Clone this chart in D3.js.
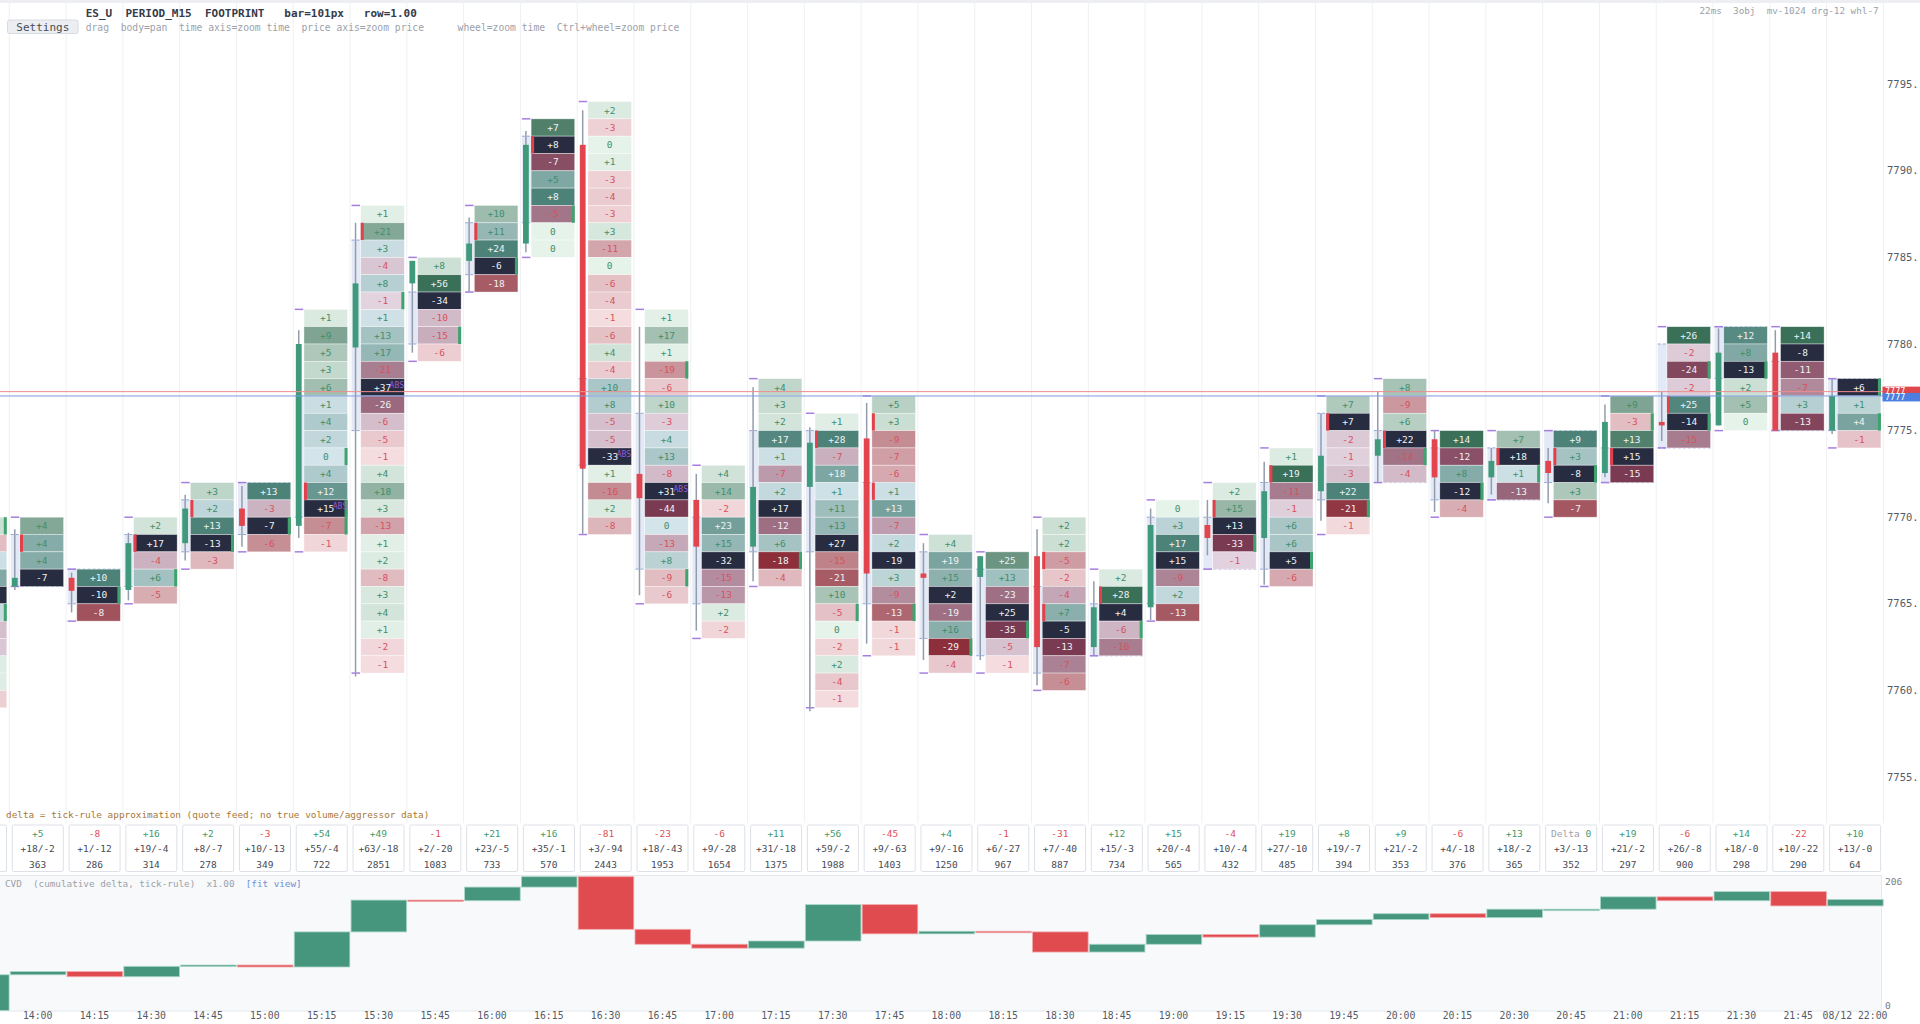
<!DOCTYPE html>
<html>
<head>
<meta charset="utf-8">
<script src="https://cdn.jsdelivr.net/npm/d3@7/dist/d3.min.js"></script>
<style>
html, body { margin: 0; padding: 0; background: #fff; overflow: hidden; }
svg { display: block; font-family: "DejaVu Sans Mono", monospace; }
text { white-space: pre; }
</style>
</head>
<body>
<div id="chart"></div>
<script>
// footprint bars, 13:45 is cut off at the left edge
var times = ["13:45","14:00","14:15","14:30","14:45","15:00","15:15","15:30","15:45","16:00","16:15",
    "16:30","16:45","17:00","17:15","17:30","17:45","18:00","18:15","18:30","18:45","19:00",
    "19:15","19:30","19:45","20:00","20:15","20:30","20:45","21:00","21:15","21:30","21:45","22:00"];

// price of the top edge of each bar's first row
var tops = [7770,7770,7767,7770,7772,7772,7782,7788,7785,7788,7793,7794,7782,7773,7778,7776,7777,
    7769,7768,7770,7767,7771,7772,7774,7777,7778,7775,7775,7775,7777,7781,7781,7781,7778];

// delta per price row, top to bottom
var cells = [
    [3,-4,1,12,20,2,-3,-2,1,1,-2],
    [4,4,4,-7],
    [10,-10,-8],
    [2,17,-4,6,-5],
    [3,2,13,-13,-3],
    [13,-3,-7,-6],
    [1,9,5,3,6,1,4,2,0,4,12,15,-7,-1],
    [1,21,3,-4,8,-1,1,13,17,-21,37,-26,-6,-5,-1,4,18,3,-13,1,2,-8,3,4,1,-2,-1],
    [8,56,-34,-10,-15,-6],
    [10,11,24,-6,-18],
    [7,8,-7,5,8,-5,0,0],
    [2,-3,0,1,-3,-4,-3,3,-11,0,-6,-4,-1,-6,4,-4,10,8,-5,-5,-33,1,-16,2,-8],
    [1,17,1,-19,-6,10,-3,4,13,-8,31,-44,0,-13,8,-9,-6],
    [4,14,-2,23,15,-32,-15,-13,2,-2],
    [4,3,2,17,1,-7,2,17,-12,6,-18,-4],
    [1,28,-7,18,1,11,13,27,-15,-21,10,-5,0,-2,2,-4,-1],
    [5,3,-9,-7,-6,1,13,-7,2,-19,3,-9,-13,-1,-1],
    [4,19,15,2,-19,16,-29,-4],
    [25,13,-23,25,-35,-5,-1],
    [2,2,-5,-2,-4,7,-5,-13,-7,-6],
    [2,28,4,-6,-16],
    [0,3,17,15,-9,2,-13],
    [2,15,13,-33,-1],
    [1,19,-11,-1,6,6,5,-6],
    [7,7,-2,-1,-3,22,-21,-1],
    [8,-9,6,22,-14,-4],
    [14,-12,8,-12,-4],
    [7,18,1,-13],
    [9,3,-8,3,-7],
    [9,-3,13,15,-15],
    [26,-2,-24,-2,25,-14,-15],
    [12,8,-13,2,5,0],
    [14,-8,-11,-7,3,-13],
    [6,1,4,-1]
];

// row index of the point of control
var pocs = [4,3,1,1,3,2,11,10,2,3,1,20,10,5,7,7,9,3,3,6,2,3,2,6,1,3,3,1,2,3,5,2,1,0];

var opens  = [7761,7766,7766.5,7765.8,7768.5,7770.5,7769.5,7779.8,7783.5,7784.8,7785.8,7791.5,7772.5,7771,
    7768.3,7771.75,7774.55,7766.75,7766.55,7767.75,7762.5,7764.8,7769.55,7768.8,7771.5,7773.55,7774.5,
    7772.3,7773.25,7772.55,7775.5,7775.3,7779.5,7775];
var highs  = [7769.5,7769.3,7766.8,7769.1,7771.3,7771.8,7780.8,7787,7784.8,7787.3,7792.3,7793.5,7781,7772.5,
    7777.5,7775.2,7776.6,7768.5,7767.75,7769.3,7766.3,7770.5,7771,7773.2,7776,7777.25,7775,7774,7774,
    7776.5,7777.25,7780.9,7780.8,7778];
var lows   = [7759.5,7765.8,7764.5,7765.2,7767.5,7768.3,7768.8,7760.8,7779.5,7783,7785.3,7769.05,7765.5,7763.45,
    7766.3,7758.8,7762.7,7761.75,7761.75,7760.3,7762.05,7764.06,7767.8,7766.1,7769.8,7772,7770.3,7771.3,
    7770.8,7772.3,7774.4,7775.3,7775,7774.8];
var closes = [7766.5,7766.5,7765.75,7768.5,7770.5,7769.5,7780,7783.5,7784.8,7785.8,7791.5,7772.8,7771.1,7768.3,
    7771.75,7774.3,7766.75,7766.5,7767.75,7762.5,7764.8,7769.55,7768.8,7771.5,7773.55,7774.5,7772.3,
    7773.25,7772.55,7775.5,7775.3,7779.5,7775,7777];

// value area bounds
var vaLows  = [7762,7766,7765,7766,7768,7769,7770,7775,7780,7784,7787,7773,7767,7765,7768,7768,7765,
    7763,7762,7761,7762,7765,7767,7767,7771,7772,7771,7771,7772,7772,7774,7778,7775,7775];
var vaHighs = [7768,7769,7767,7769,7771,7772,7777,7786,7783,7787,7792,7778,7776,7770,7775,7775,7772,
    7768,7767,7766,7765,7770,7770,7772,7776,7775,7774,7774,7775,7774,7780,7781,7779,7778];

// imbalance markers (row indexes)
var imbRight = [[0,5],[],[1],[3],[3],[2],[8,11,12],[5],[4],[3],[5],[],[3,15],[],[10],[11],[12],[6],[4],
    [],[3],[],[3],[6],[6],[4],[3],[2],[2],[1],[2,5],[2],[],[0,2]];
var imbLeft  = [[],[1],[],[1],[1],[],[10],[1],[],[1],[1],[],[],[],[],[1],[1,5],[],[],[2,5],[1],[],[1],
    [1],[1],[3],[],[1],[1],[3],[4],[],[],[]];
var absCells = [[4],[],[],[],[],[],[11],[10],[],[],[],[20],[10],[],[],[],[],[],[],[],[],[],[],[],[],[],[],[],[],[],[],[],[],[]];

// per-bar summary row
var statDelta = [55,5,-8,16,2,-3,54,49,-1,21,16,-81,-23,-6,11,56,-45,4,-1,-31,12,15,-4,19,8,9,-6,13,0,19,-6,14,-22,10];
var statBuySell = ["+60/-5","+18/-2","+1/-12","+19/-4","+8/-7","+10/-13","+55/-4","+63/-18","+2/-20","+23/-5",
    "+35/-1","+3/-94","+18/-43","+9/-28","+31/-18","+59/-2","+9/-63","+9/-16","+6/-27","+7/-40","+15/-3",
    "+20/-4","+10/-4","+27/-10","+19/-7","+21/-2","+4/-18","+18/-2","+3/-13","+21/-2","+26/-8","+18/-0",
    "+10/-22","+13/-0"];
var statVol = [410,363,286,314,278,349,722,2851,1083,733,570,2443,1953,1654,1375,1988,1403,1250,967,887,
    734,565,432,485,394,353,376,365,352,297,900,298,290,64];

var priceTicks = [7755,7760,7765,7770,7775,7780,7785,7790,7795];

var svg = d3.select("#chart").append("svg")
    .attr("width", 1920)
    .attr("height", 1024);

var x = d3.scaleBand().domain(times).range([-47.5, 1883.4]);
var y = d3.scaleLinear().domain([7755, 7795]).range([777, 84.2]);
var slot = x.bandwidth();

var posOut = d3.interpolateRgb("#e6f3eb", "#3a6f58"),
    posIn  = d3.interpolateRgb("#d3e4ea", "#4d8279"),
    negOut = d3.interpolateRgb("#f7e1e4", "#8c2f3b"),
    negIn  = d3.interpolateRgb("#e5d7e3", "#7a3a52");

function fmt(v) { return v > 0 ? "+" + v : "" + v; }
function onScreen(t) { return x(t) + slot / 2 > 20; }

// top strip + grid
svg.append("rect").attr("x", 0).attr("y", 0).attr("width", 1920).attr("height", 3).attr("fill", "#eceef1");

svg.append("g").selectAll("line")
    .data(times.concat(["end"]))
    .enter().append("line")
    .attr("x1", function(d, i) { return i < times.length ? x(d) : 1883.4; })
    .attr("x2", function(d, i) { return i < times.length ? x(d) : 1883.4; })
    .attr("y1", 3).attr("y2", 823)
    .attr("stroke", "#eef0f3");

// header
svg.append("text").attr("x", 85.7).attr("y", 13.5).attr("dy", "0.35em")
    .attr("font-size", 11).attr("font-weight", "bold").attr("fill", "#343b4a")
    .text("ES_U  PERIOD_M15  FOOTPRINT   bar=101px   row=1.00");
svg.append("rect").attr("x", 7.5).attr("y", 20).attr("width", 70.5).attr("height", 13.5)
    .attr("rx", 2).attr("fill", "#eceef2").attr("stroke", "#d6dae1");
svg.append("text").attr("x", 42.8).attr("y", 27).attr("dy", "0.35em").attr("text-anchor", "middle")
    .attr("font-size", 11).attr("fill", "#454b57").text("Settings");
svg.append("text").attr("x", 85.7).attr("y", 27.3).attr("dy", "0.35em")
    .attr("font-size", 9.7).attr("fill", "#9ba1aa")
    .text("drag  body=pan  time axis=zoom time  price axis=zoom price");
svg.append("text").attr("x", 457.6).attr("y", 27.3).attr("dy", "0.35em")
    .attr("font-size", 9.7).attr("fill", "#9ba1aa")
    .text("wheel=zoom time  Ctrl+wheel=zoom price");
svg.append("text").attr("x", 1699.5).attr("y", 11.2).attr("dy", "0.35em")
    .attr("font-size", 9.3).attr("fill", "#9ba1aa")
    .text("22ms  3obj  mv-1024 drg-12 whl-7");

// footprint bars
var plot = svg.append("g");

times.forEach(function(t, i) {
    var g = x(t),
        top = tops[i],
        vals = cells[i],
        n = vals.length,
        maxAbs = d3.max(vals, function(v) { return Math.abs(v); }) || 1;
    var bar = plot.append("g").attr("class", "bar");

    // value area strip
    bar.append("rect")
        .attr("x", g + 1.5).attr("y", y(vaHighs[i]))
        .attr("width", 9).attr("height", y(vaLows[i]) - y(vaHighs[i]))
        .attr("fill", "#e3e9f6");
    [vaHighs[i], vaLows[i]].forEach(function(p) {
        bar.append("line")
            .attr("x1", g + 1.5).attr("x2", g + 54.3)
            .attr("y1", y(p)).attr("y2", y(p))
            .attr("stroke", "#93a9dd").attr("stroke-dasharray", "3,2");
    });

    // high / low brackets
    [top, top - n].forEach(function(p) {
        bar.append("line")
            .attr("x1", g + 1.5).attr("x2", g + 10)
            .attr("y1", y(p)).attr("y2", y(p))
            .attr("stroke", "#a67ee0").attr("stroke-width", 1.5);
    });

    // candle
    bar.append("line")
        .attr("x1", g + 5.5).attr("x2", g + 5.5)
        .attr("y1", y(highs[i])).attr("y2", y(lows[i]))
        .attr("stroke", "#939cab").attr("stroke-width", 1.5);
    var up = closes[i] >= opens[i];
    bar.append("rect")
        .attr("x", g + 2.6).attr("width", 5.8)
        .attr("y", y(Math.max(opens[i], closes[i])))
        .attr("height", Math.max(1.5, Math.abs(y(opens[i]) - y(closes[i]))))
        .attr("fill", up ? "#3f9a7c" : "#e2454d");

    // price rows
    var row = bar.selectAll("g.cell")
        .data(vals)
        .enter().append("g")
        .attr("class", "cell");

    function lvl(j) { return top - 1 - j; }
    function inVA(j) { return lvl(j) >= vaLows[i] && lvl(j) + 1 <= vaHighs[i]; }
    function tval(v) { return Math.abs(v) / maxAbs; }

    row.append("rect")
        .attr("x", g + 10.7)
        .attr("y", function(d, j) { return y(lvl(j) + 1); })
        .attr("width", 43.6)
        .attr("height", function(d, j) { return y(lvl(j)) - y(lvl(j) + 1); })
        .attr("fill", function(d, j) {
            if (j === pocs[i]) return "#272c40";
            var tt = tval(d);
            if (d >= 0) return inVA(j) ? posIn(tt) : posOut(tt);
            return inVA(j) ? negIn(tt) : negOut(tt);
        })
        .attr("stroke", "#ffffff").attr("stroke-opacity", 0.55).attr("stroke-width", 0.7);

    // the cut-off bar at the left edge shows no numbers
    if (onScreen(t)) {
        row.append("text")
            .attr("x", g + 32.5)
            .attr("y", function(d, j) { return y(lvl(j) + 0.5); })
            .attr("dy", "0.35em")
            .attr("text-anchor", "middle")
            .attr("font-size", 9.5)
            .attr("fill", function(d, j) {
                if (j === pocs[i] || tval(d) > 0.64) return "#eef2f5";
                return d >= 0 ? "#3f8f6c" : "#d9515d";
            })
            .text(fmt);
    }

    imbRight[i].forEach(function(j) {
        bar.append("rect").attr("x", g + 51.3).attr("y", y(lvl(j) + 1))
            .attr("width", 3).attr("height", y(lvl(j)) - y(lvl(j) + 1))
            .attr("fill", "#3ea36e");
    });
    imbLeft[i].forEach(function(j) {
        bar.append("rect").attr("x", g + 10.7).attr("y", y(lvl(j) + 1))
            .attr("width", 3).attr("height", y(lvl(j)) - y(lvl(j) + 1))
            .attr("fill", "#e2414c");
    });
    if (onScreen(t)) {
        absCells[i].forEach(function(j) {
            bar.append("text").attr("x", g + 54).attr("y", y(lvl(j) + 0.62))
                .attr("dy", "0.35em").attr("text-anchor", "end")
                .attr("font-size", 8).attr("fill", "#9a5ad8").text("ABS");
        });
    }
});

// last price lines
svg.append("line").attr("x1", 0).attr("x2", 1883).attr("y1", y(7777.25)).attr("y2", y(7777.25))
    .attr("stroke", "#ee8d8d").attr("stroke-width", 1);
svg.append("line").attr("x1", 0).attr("x2", 1883).attr("y1", y(7777)).attr("y2", y(7777))
    .attr("stroke", "#7d9ce0").attr("stroke-width", 1);

// price axis (labels run off the right edge, only "7795." fits)
svg.append("g").selectAll("text")
    .data(priceTicks)
    .enter().append("text")
    .attr("x", 1887).attr("y", function(d) { return y(d); })
    .attr("dy", "0.35em").attr("font-size", 10.5).attr("fill", "#555b66")
    .text(function(d) { return d + "."; });

svg.append("rect").attr("x", 1882.5).attr("y", y(7777.25) - 5).attr("width", 40).attr("height", 8)
    .attr("fill", "#e0474c");
svg.append("text").attr("x", 1885).attr("y", y(7777.25) - 1).attr("dy", "0.35em")
    .attr("font-size", 8.5).attr("fill", "#fff").text("7777");
svg.append("rect").attr("x", 1882.5).attr("y", y(7777) - 3).attr("width", 40).attr("height", 8.5)
    .attr("fill", "#4d7fe0");
svg.append("text").attr("x", 1885).attr("y", y(7777) + 1.2).attr("dy", "0.35em")
    .attr("font-size", 8.5).attr("fill", "#fff").text("7777");

// note line
svg.append("text").attr("x", 6).attr("y", 815).attr("dy", "0.35em")
    .attr("font-size", 9.4).attr("fill", "#a8783a")
    .text("delta = tick-rule approximation (quote feed; no true volume/aggressor data)");

// summary boxes
var stats = svg.append("g").selectAll("g")
    .data(times)
    .enter().append("g");

stats.append("rect")
    .attr("x", function(d) { return x(d) + 3; })
    .attr("y", 825).attr("width", 51).attr("height", 46.5)
    .attr("rx", 1.5).attr("fill", "#fff").attr("stroke", "#dde1e7");

var shown = stats.filter(function(d) { return onScreen(d); });

shown.each(function(d) {
    var i = times.indexOf(d), v = statDelta[i], c = x(d) + slot / 2, el = d3.select(this);
    if (v === 0) {
        el.append("text").attr("x", c - 20).attr("y", 833.5).attr("dy", "0.35em")
            .attr("font-size", 9.5).attr("fill", "#9ba1aa").text("Delta");
        el.append("text").attr("x", c + 14.5).attr("y", 833.5).attr("dy", "0.35em")
            .attr("font-size", 9.5).attr("fill", "#3f9a6e").text("0");
    } else {
        el.append("text").attr("x", c).attr("y", 833.5).attr("dy", "0.35em")
            .attr("text-anchor", "middle").attr("font-size", 9.5)
            .attr("fill", v > 0 ? "#3f9a6e" : "#e0505a").text(fmt(v));
    }
    el.append("text").attr("x", c).attr("y", 848.5).attr("dy", "0.35em")
        .attr("text-anchor", "middle").attr("font-size", 9.5).attr("fill", "#454b56")
        .text(statBuySell[i]);
    el.append("text").attr("x", c).attr("y", 864.3).attr("dy", "0.35em")
        .attr("text-anchor", "middle").attr("font-size", 9.5).attr("fill", "#454b56")
        .text(statVol[i]);
});

// CVD panel
var cvdEnd = [], run = 0;
statDelta.forEach(function(v) { run += v; cvdEnd.push(run); });
var cvdStart = [0].concat(cvdEnd.slice(0, -1));

var yc = d3.scaleLinear().domain([0, 206]).range([1010.5, 876.7]);

svg.append("rect").attr("x", -1).attr("y", 875.5).attr("width", 1882.5).attr("height", 135.5)
    .attr("fill", "#f8f9fb").attr("stroke", "#e5e8ed");

svg.append("g").selectAll("rect")
    .data(times)
    .enter().append("rect")
    .attr("x", function(d) { return x(d) + 1; })
    .attr("width", slot - 1.2)
    .attr("y", function(d, i) { return Math.min(yc(cvdStart[i]), yc(cvdEnd[i])); })
    .attr("height", function(d, i) { return Math.max(1.5, Math.abs(yc(cvdStart[i]) - yc(cvdEnd[i]))); })
    .attr("fill", function(d, i) { return statDelta[i] >= 0 ? "#46967e" : "#e04b50"; })
    .attr("stroke", function(d, i) { return statDelta[i] >= 0 ? "#a9d6c6" : "#f2a9ab"; })
    .attr("stroke-width", 0.8);

var cvdTitle = svg.append("text").attr("x", 5).attr("y", 884).attr("dy", "0.35em")
    .attr("font-size", 9.3).attr("fill", "#9ba1aa");
cvdTitle.append("tspan").text("CVD  (cumulative delta, tick-rule)  x1.00  ");
cvdTitle.append("tspan").attr("fill", "#6c8fd8").text("[fit view]");

svg.append("text").attr("x", 1885).attr("y", 882).attr("dy", "0.35em")
    .attr("font-size", 9.5).attr("fill", "#777d88").text("206");
svg.append("text").attr("x", 1885).attr("y", 1006).attr("dy", "0.35em")
    .attr("font-size", 9.5).attr("fill", "#777d88").text("0");

// time axis
svg.append("g").selectAll("text")
    .data(times.slice(1))
    .enter().append("text")
    .attr("x", function(d) { return x(d) + slot / 2; })
    .attr("y", 1015.5).attr("dy", "0.35em").attr("text-anchor", "middle")
    .attr("font-size", 9.8).attr("fill", "#555b66")
    .text(function(d) { return d === "22:00" ? "08/12 22:00" : d; });
</script>
</body>
</html>
